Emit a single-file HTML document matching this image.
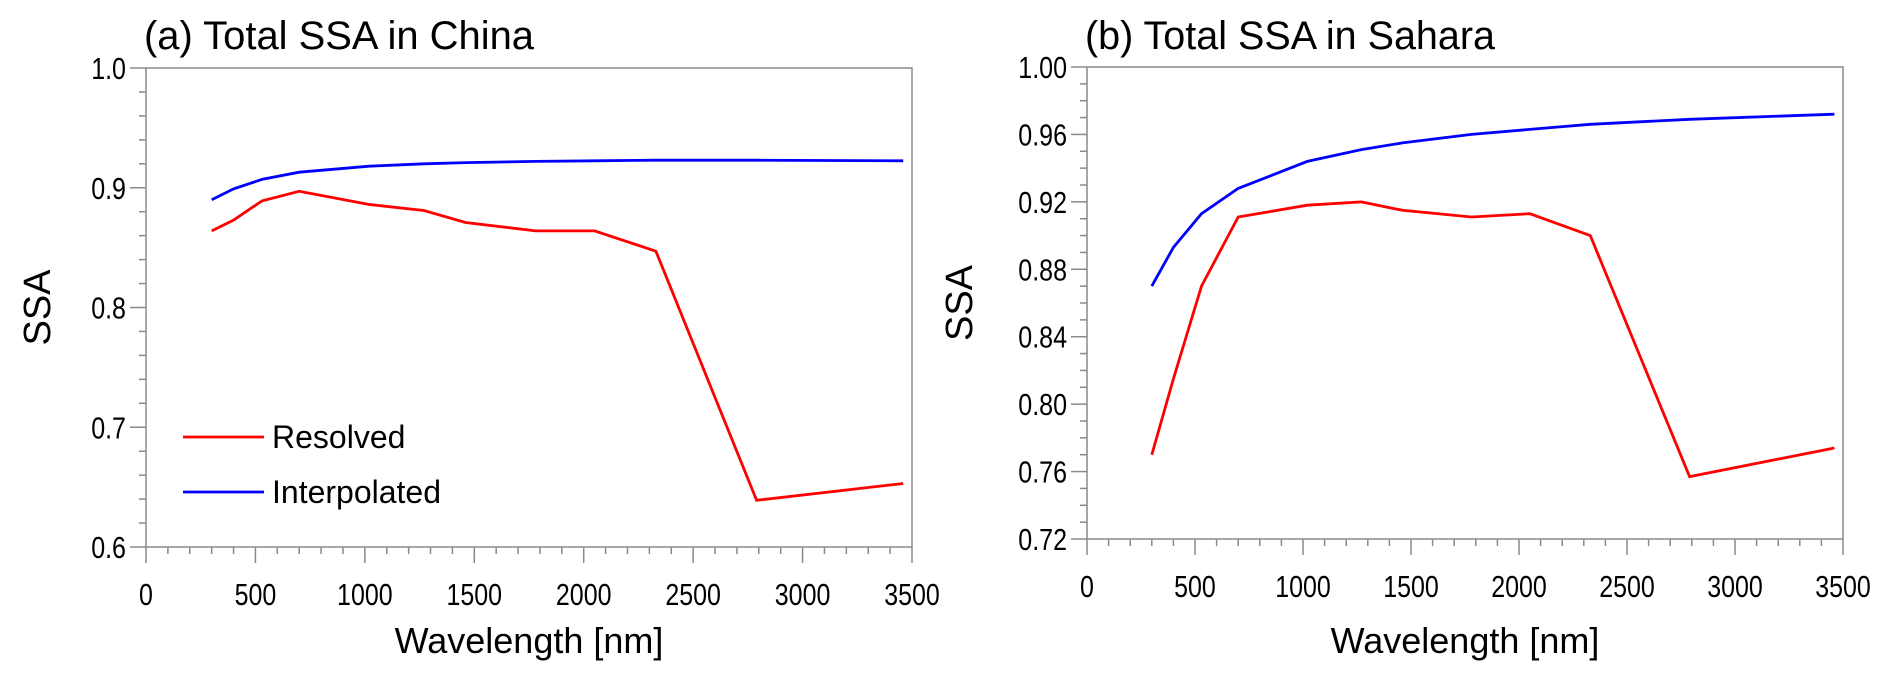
<!DOCTYPE html>
<html><head><meta charset="utf-8"><style>
html,body{margin:0;padding:0;background:#fff;}
svg{display:block;font-family:"Liberation Sans",Arial,sans-serif;}
</style></head><body>
<svg id="chart" width="1892" height="679" viewBox="0 0 1892 679" xmlns="http://www.w3.org/2000/svg"></svg>
<script>
const wavelengths = [300, 400, 530, 700, 1020, 1270, 1460, 1780, 2050, 2330, 2790, 3460];
const chinaResolved = [0.864, 0.873, 0.889, 0.897, 0.886, 0.881, 0.871, 0.864, 0.864, 0.847, 0.639, 0.653];
const chinaInterpolated = [0.890, 0.899, 0.907, 0.913, 0.918, 0.920, 0.921, 0.922, 0.9225, 0.923, 0.923, 0.9225];
const saharaResolved = [0.770, 0.815, 0.870, 0.911, 0.918, 0.920, 0.915, 0.911, 0.913, 0.900, 0.757, 0.774];
const saharaInterpolated = [0.870, 0.893, 0.913, 0.928, 0.944, 0.951, 0.955, 0.960, 0.963, 0.966, 0.969, 0.972];
const xTicks = [0, 500, 1000, 1500, 2000, 2500, 3000, 3500];
const chinaYTicks = ["0.6", "0.7", "0.8", "0.9", "1.0"];
const saharaYTicks = ["0.72", "0.76", "0.80", "0.84", "0.88", "0.92", "0.96", "1.00"];

const NS = "http://www.w3.org/2000/svg";
const svg = document.getElementById("chart");
function mk(tag, attrs, parent) {
  const e = document.createElementNS(NS, tag);
  for (const k in attrs) e.setAttribute(k, attrs[k]);
  (parent || svg).appendChild(e);
  return e;
}
function condense(t, size) {
  const w = t.getComputedTextLength();
  t.setAttribute("font-size", size);
  t.setAttribute("textLength", w.toFixed(1));
  t.setAttribute("lengthAdjust", "spacingAndGlyphs");
}

function panel(cfg) {
  const g = mk("g", {});
  
  
  const xs = v => cfg.x0 + v / 3500 * (cfg.x1 - cfg.x0);
  const ys = v => cfg.yb - (v - cfg.ymin) / (cfg.ymax - cfg.ymin) * (cfg.yb - cfg.yt);
  const frame = mk("rect", {x: cfg.x0, y: cfg.yt, width: cfg.x1 - cfg.x0, height: cfg.yb - cfg.yt, fill: "none", stroke: "#8a8a8a", "stroke-width": 1.5}, g);
  
  
  for (let v = 0; v <= 3500; v += 100) {
    const major = v % 500 === 0;
    const t = mk("line", {x1: xs(v), x2: xs(v), y1: cfg.yb, y2: cfg.yb + (major ? 16 : 7), stroke: "#8a8a8a", "stroke-width": 1.5}, g);
    
    
  }
  xTicks.forEach(v => {
    const t = mk("text", {x: xs(v), y: cfg.yb + 58, "font-size": 25, "text-anchor": "middle", fill: "#000"}, g);
    t.textContent = v;
    
    
    condense(t, 31);
  });
  const n = Math.round((cfg.ymax - cfg.ymin) / cfg.minor);
  for (let i = 0; i <= n; i++) {
    const v = cfg.ymin + i * cfg.minor;
    const major = i % cfg.per === 0;
    const t = mk("line", {x1: cfg.x0 - (major ? 16 : 7), x2: cfg.x0, y1: ys(v), y2: ys(v), stroke: "#8a8a8a", "stroke-width": 1.5}, g);
    
    
  }
  cfg.yLabels.forEach(s => {
    const t = mk("text", {x: cfg.x0 - 20, y: ys(parseFloat(s)) + 11, "font-size": 25, "text-anchor": "end", fill: "#000"}, g);
    t.textContent = s;
    
    
    condense(t, 31);
  });
  const series = [[cfg.res, "#ff0000", "resolved-line"], [cfg.interp, "#0000ff", "interpolated-line"]];
  series.forEach(([vals, col, nm]) => {
    const d = vals.map((v, i) => (i ? "L" : "M") + xs(wavelengths[i]).toFixed(1) + "," + ys(v).toFixed(1)).join("");
    const p = mk("path", {d: d, fill: "none", stroke: col, "stroke-width": 2.8, "stroke-linejoin": "miter"}, g);
    
    
  });
  const title = mk("text", {x: cfg.x0 - 2, y: 49, "font-size": 40, fill: "#000", textLength: cfg.titleLen, lengthAdjust: "spacingAndGlyphs"}, g);
  title.textContent = cfg.title;
  
  
  const xt = mk("text", {x: (cfg.x0 + cfg.x1) / 2, y: 653, "font-size": 36, "text-anchor": "middle", fill: "#000"}, g);
  xt.textContent = "Wavelength [nm]";
  
  
  const yt = mk("text", {x: 0, y: 0, "font-size": 38, "text-anchor": "middle", fill: "#000", transform: `translate(${cfg.ylx},${(cfg.yt + cfg.yb) / 2}) rotate(-90)`}, g);
  yt.textContent = "SSA";
  
  
}

panel({name: "china-panel", x0: 146, x1: 912, yt: 68, yb: 547, ymin: 0.6, ymax: 1.0, minor: 0.02, per: 5,
  yLabels: chinaYTicks, res: chinaResolved, interp: chinaInterpolated, title: "(a) Total SSA in China", titleLen: 390, ylx: 50});
panel({name: "sahara-panel", x0: 1087, x1: 1843, yt: 67, yb: 539, ymin: 0.72, ymax: 1.0, minor: 0.01, per: 4,
  yLabels: saharaYTicks, res: saharaResolved, interp: saharaInterpolated, title: "(b) Total SSA in Sahara", titleLen: 410, ylx: 972});

const lg = mk("g", {});


[["Resolved", "#ff0000", 437], ["Interpolated", "#0000ff", 492]].forEach(([lab, col, y]) => {
  const l = mk("line", {x1: 183, x2: 264, y1: y, y2: y, stroke: col, "stroke-width": 2.8}, lg);
  
  
  const t = mk("text", {x: 272, y: y + 11, "font-size": 32, fill: "#000"}, lg);
  t.textContent = lab;
  
  
});
</script>
</body></html>
